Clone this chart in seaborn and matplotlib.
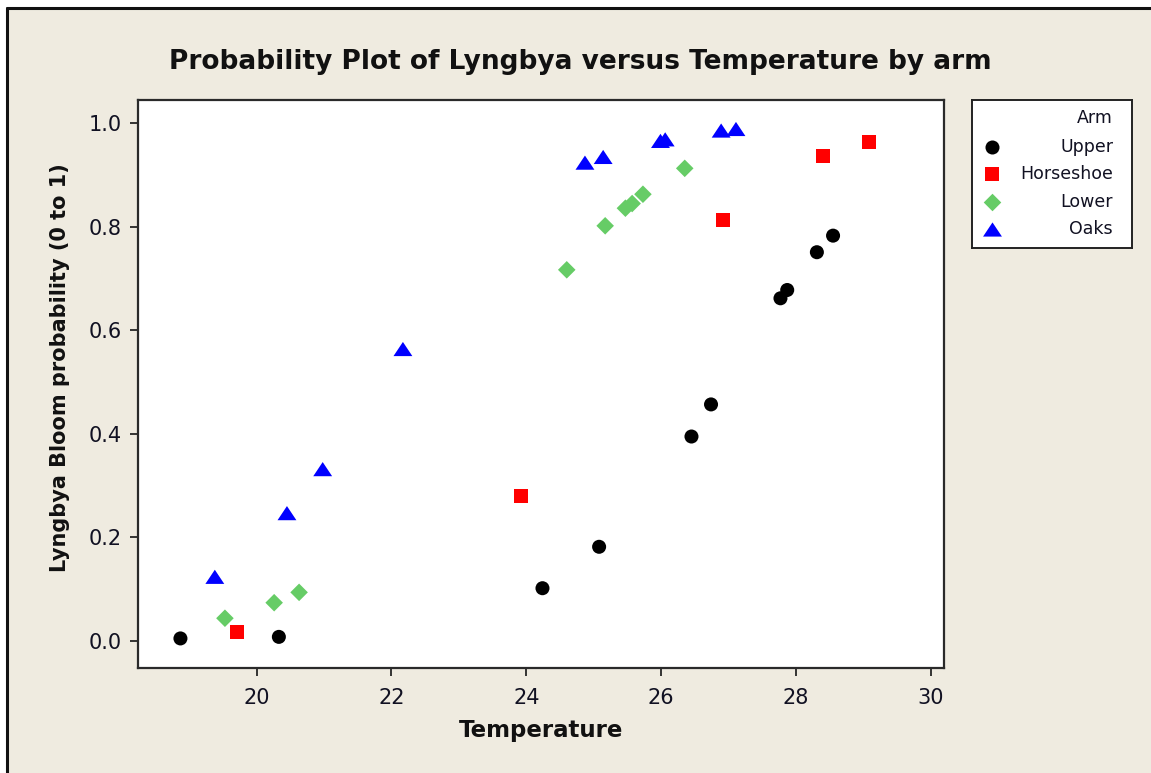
import matplotlib
matplotlib.use("Agg")
import matplotlib.pyplot as plt
from matplotlib.patches import Rectangle
import numpy as np
import pandas as pd
import seaborn as sns

# Temperature and bloom probability per lake arm
upper_temp = [18.87, 20.33, 24.24, 25.08, 26.45, 26.74, 27.77, 27.87, 28.31, 28.55]
upper_prob = [0.005, 0.008, 0.102, 0.182, 0.395, 0.457, 0.662, 0.678, 0.751, 0.783]

horseshoe_temp = [19.71, 23.92, 26.92, 28.40, 29.08]
horseshoe_prob = [0.017, 0.280, 0.813, 0.937, 0.964]

lower_temp = [19.53, 20.26, 20.63, 24.60, 25.17, 25.47, 25.57, 25.73, 26.35]
lower_prob = [0.044, 0.074, 0.094, 0.717, 0.802, 0.836, 0.845, 0.863, 0.913]

oaks_temp = [19.38, 20.45, 20.98, 22.17, 24.87, 25.14, 25.99, 26.06, 26.89, 27.11]
oaks_prob = [0.124, 0.247, 0.332, 0.564, 0.924, 0.935, 0.966, 0.969, 0.986, 0.989]

arms = ["Upper", "Horseshoe", "Lower", "Oaks"]
x_ticks = [20, 22, 24, 26, 28, 30]
y_ticks = [0.0, 0.2, 0.4, 0.6, 0.8, 1.0]

# Long-form table for seaborn
df = pd.concat([
    pd.DataFrame({"Temperature": upper_temp, "Prob": upper_prob, "Arm": "Upper"}),
    pd.DataFrame({"Temperature": horseshoe_temp, "Prob": horseshoe_prob, "Arm": "Horseshoe"}),
    pd.DataFrame({"Temperature": lower_temp, "Prob": lower_prob, "Arm": "Lower"}),
    pd.DataFrame({"Temperature": oaks_temp, "Prob": oaks_prob, "Arm": "Oaks"}),
], ignore_index=True)

BG = "#EFEBE0"
palette = {"Upper": "#000000", "Horseshoe": "#FF0000", "Lower": "#66CC66", "Oaks": "#0000FF"}
wide_tri = [(-1.0, -0.75), (1.0, -0.75), (0.0, 0.75), (-1.0, -0.75)]
markers = {"Upper": "o", "Horseshoe": "s", "Lower": "D", "Oaks": wide_tri}
sizes = {"Upper": 102, "Horseshoe": 102, "Lower": 80, "Oaks": 185}

sns.set_theme(style="white")
plt.rcParams["font.family"] = ["DejaVu Sans"]

W, H = 1151, 773
fig = plt.figure(figsize=(W / 100, H / 100), dpi=100, facecolor="white")

# Panel background with dark rule on top and left
fig.patches.append(Rectangle((7 / W, 0), 1, 1 - 8 / H, transform=fig.transFigure,
                             facecolor=BG, edgecolor="none", zorder=-10))
fig.lines.append(plt.Line2D([7 / W, 1], [1 - 8 / H, 1 - 8 / H], transform=fig.transFigure,
                            color="#111111", lw=2.2))
fig.lines.append(plt.Line2D([7 / W, 7 / W], [0, 1 - 8 / H], transform=fig.transFigure,
                            color="#111111", lw=2.2))

ax = fig.add_axes([138.3 / W, 1 - 668.3 / H, (944.3 - 138.3) / W, (668.3 - 100) / H])
ax.set_facecolor("white")

sns.scatterplot(data=df, x="Temperature", y="Prob", hue="Arm", style="Arm", size="Arm",
                hue_order=arms, style_order=arms, size_order=arms,
                palette=palette, markers=markers, sizes=sizes,
                linewidth=0, legend=False, ax=ax, zorder=3)

ax.set_xlim(18.245, 30.2)
ax.set_ylim(-0.0527, 1.045)
ax.set_xticks(x_ticks)
ax.set_xticklabels([str(t) for t in x_ticks])
ax.set_yticks(y_ticks)
ax.set_yticklabels([f"{t:.1f}" for t in y_ticks])
ax.tick_params(axis="both", direction="out", length=6, width=1.4, color="#333333",
               labelsize=15, labelcolor="#111122", pad=6,
               bottom=True, left=True, top=False, right=False)
ax.tick_params(axis="x", pad=8)
for sp in ax.spines.values():
    sp.set_color("#2a2a2a")
    sp.set_linewidth(1.6)

ax.set_xlabel("Temperature", fontsize=16.5, fontweight="bold", color="#111111", labelpad=8)
ax.set_ylabel("Lyngbya Bloom probability (0 to 1)", fontsize=15, fontweight="bold",
              color="#111111")
ax.yaxis.set_label_coords((70 - 138.3) / 806, (668.3 - 368) / 568.3)

fig.text(580 / W, 1 - 62 / H, "Probability Plot of Lyngbya versus Temperature by arm",
         ha="center", va="center", fontsize=19, fontweight="bold", color="#111111")

# Legend panel
lx0, lx1, ly0, ly1 = 972, 1132, 100, 248
lax = fig.add_axes([lx0 / W, 1 - ly1 / H, (lx1 - lx0) / W, (ly1 - ly0) / H])
lax.set_xlim(0, lx1 - lx0)
lax.set_ylim(ly1 - ly0, 0)
lax.set_xticks([])
lax.set_yticks([])
lax.set_facecolor("white")
for sp in lax.spines.values():
    sp.set_color("#222222")
    sp.set_linewidth(1.4)
lax.text(141, 18, "Arm", ha="right", va="center", fontsize=12.5, color="#111122")
row_y = [47, 74, 102, 129]
for arm, yy in zip(arms, row_y):
    lax.scatter([20], [yy], marker=markers[arm], s=sizes[arm], color=palette[arm], linewidths=0)
    lax.text(141, yy, arm, ha="right", va="center", fontsize=12.5, color="#111122")

fig.savefig("out.png", dpi=100, facecolor=fig.get_facecolor())
